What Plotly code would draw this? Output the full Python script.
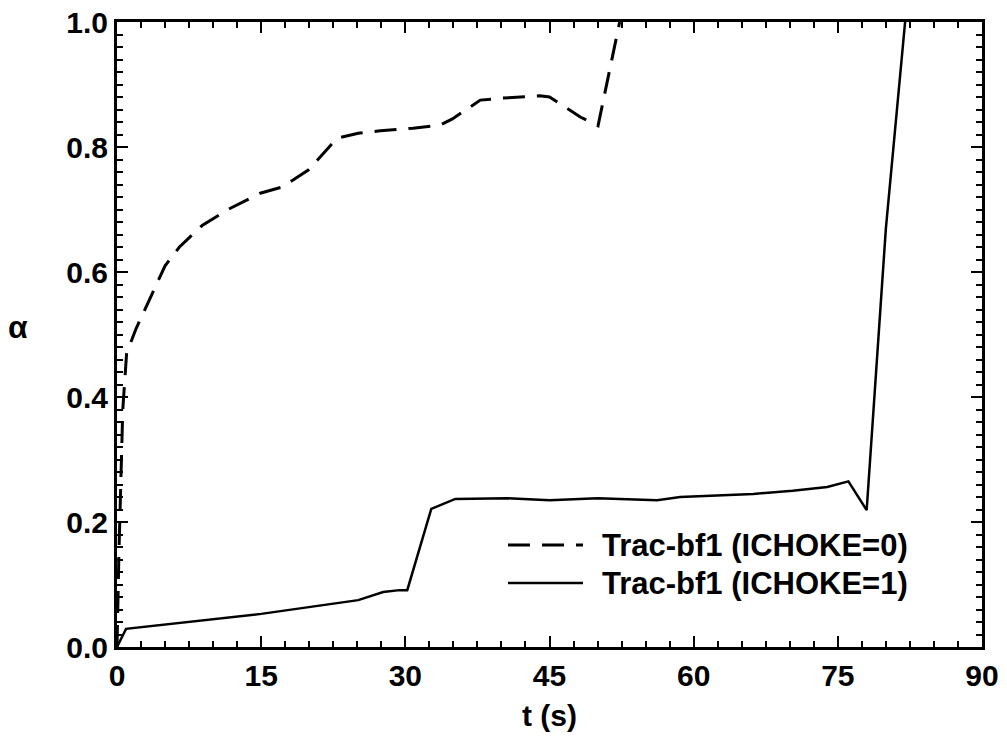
import plotly.graph_objects as go

# ICHOKE=0 (dashed)
t_choke0 = [0.0, 0.2, 0.6, 1.0, 2.0, 2.9, 5.0, 6.5, 8.9, 11.8, 14.9, 17.2, 19.9, 22.9,
            25.1, 27.4, 29.4, 30.8, 33.6, 34.9, 37.8, 39.9, 44.0, 45.0, 48.2, 50.05, 52.3]
a_choke0 = [0.0, 0.15, 0.38, 0.47, 0.51, 0.54, 0.61, 0.64, 0.675, 0.702, 0.726, 0.736, 0.763, 0.814,
            0.822, 0.826, 0.828, 0.830, 0.835, 0.845, 0.875, 0.878, 0.882, 0.880, 0.848, 0.834, 1.0]

# ICHOKE=1 (solid)
t_choke1 = [0.0, 0.94, 15.0, 22.5, 25.1, 27.7, 29.4, 30.2, 32.7, 35.2, 40.6, 45.0, 50.0,
            56.2, 58.6, 66.2, 70.3, 73.9, 76.1, 78.0, 79.4, 80.0, 82.0]
a_choke1 = [0.0, 0.029, 0.053, 0.069, 0.075, 0.088, 0.091, 0.091, 0.221, 0.237, 0.238, 0.235, 0.238,
            0.235, 0.240, 0.245, 0.250, 0.256, 0.265, 0.219, 0.534, 0.67, 1.0]

x_ticks = [0, 15, 30, 45, 60, 75, 90]
y_ticks = [0.0, 0.2, 0.4, 0.6, 0.8, 1.0]
y_ticklabels = ["0.0", "0.2", "0.4", "0.6", "0.8", "1.0"]
names = ["Trac-bf1 (ICHOKE=0)", "Trac-bf1 (ICHOKE=1)"]
dashes = ["22px,12px", "solid"]
widths = [3, 2.5]

FONT = "Liberation Sans"
W, H = 1007, 738
ML, MR, MT, MB = 117, 25, 22, 91
PW, PH = W - ML - MR, H - MT - MB

fig = go.Figure()
fig.add_trace(go.Scatter(x=t_choke0, y=a_choke0, mode="lines", name=names[0], showlegend=False,
                         line=dict(color="black", width=widths[0], dash=dashes[0])))
fig.add_trace(go.Scatter(x=t_choke1, y=a_choke1, mode="lines", name=names[1], showlegend=False,
                         line=dict(color="black", width=widths[1], dash=dashes[1])))

tickfont = dict(family=FONT, size=30, color="black", weight="bold")

fig.update_xaxes(range=[0, 90], tickvals=x_ticks,
                 showline=True, linecolor="black", linewidth=3, mirror="ticks",
                 ticks="inside", tickcolor="black", tickwidth=2, ticklen=11,
                 automargin=False, tickfont=tickfont, showgrid=False, zeroline=False,
                 minor=dict(dtick=2.5, ticks="inside", ticklen=6, tickwidth=2, tickcolor="black"))
fig.update_yaxes(range=[0, 1], tickvals=y_ticks, ticktext=y_ticklabels,
                 showline=True, linecolor="black", linewidth=3, mirror="ticks",
                 ticks="inside", tickcolor="black", tickwidth=2, ticklen=11,
                 automargin=False, tickfont=tickfont, showgrid=False, zeroline=False,
                 minor=dict(dtick=0.02, ticks="inside", ticklen=6, tickwidth=2, tickcolor="black"))

# axis labels as annotations
fig.add_annotation(text="t (s)", xref="paper", yref="paper", x=0.5, y=(H - MB - 715) / PH,
                   xanchor="center", yanchor="middle", showarrow=False, font=tickfont)
fig.add_annotation(text="α", xref="paper", yref="paper", x=(18 - ML) / PW, y=(H - MB - 327) / PH,
                   xanchor="center", yanchor="middle", showarrow=False,
                   font=dict(family=FONT, size=32, color="black", weight="bold"))

# manual legend (long line samples as in the original)
leg_rows_y = [545, 583]
for name, dash, w, ry in zip(names, dashes, widths, leg_rows_y):
    yp = (H - MB - ry) / PH
    fig.add_shape(type="line", xref="paper", yref="paper",
                  x0=(508 - ML) / PW, x1=(583 - ML) / PW, y0=yp, y1=yp,
                  line=dict(color="black", width=w, dash=dash))
    fig.add_annotation(text=name, xref="paper", yref="paper", x=(600 - ML) / PW, y=yp,
                       xanchor="left", yanchor="middle", showarrow=False,
                       font=dict(family=FONT, size=31, color="black", weight="bold"))

fig.update_layout(
    width=W, height=H,
    margin=dict(l=ML, r=MR, t=MT, b=MB),
    paper_bgcolor="white", plot_bgcolor="white",
    showlegend=False,
)

fig.write_html("out.html")
